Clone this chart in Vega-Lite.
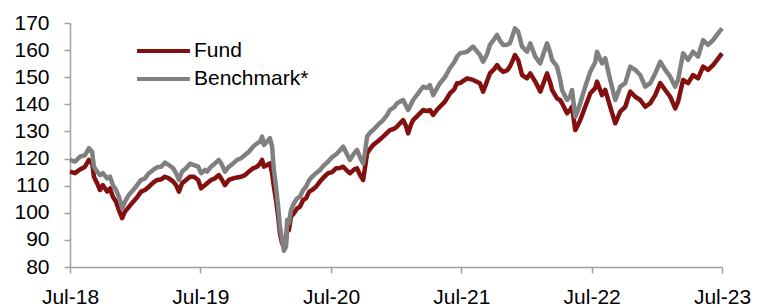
{
  "$schema": "https://vega.github.io/schema/vega-lite/v6.json",
  "width": 652,
  "height": 244,
  "autosize": {"type": "none"},
  "padding": {"left": 70, "top": 23, "right": 36, "bottom": 39},
  "background": "white",
  "config": {"view": {"stroke": null}, "font": "Liberation Sans"},
  "data": {"values": [
    {"d":"2018-07-31","Fund":115.2,"Benchmark":119.5},
    {"d":"2018-08-14","Fund":114.6,"Benchmark":118.9},
    {"d":"2018-08-28","Fund":116.0,"Benchmark":120.7},
    {"d":"2018-09-11","Fund":117.0,"Benchmark":121.3},
    {"d":"2018-09-22","Fund":119.5,"Benchmark":123.8},
    {"d":"2018-10-01","Fund":118.5,"Benchmark":122.5},
    {"d":"2018-10-06","Fund":113.3,"Benchmark":117.0},
    {"d":"2018-10-15","Fund":110.9,"Benchmark":115.2},
    {"d":"2018-10-23","Fund":108.4,"Benchmark":113.9},
    {"d":"2018-10-31","Fund":110.2,"Benchmark":114.6},
    {"d":"2018-11-12","Fund":107.8,"Benchmark":112.7},
    {"d":"2018-11-20","Fund":109.0,"Benchmark":113.3},
    {"d":"2018-11-28","Fund":105.9,"Benchmark":110.2},
    {"d":"2018-12-07","Fund":104.1,"Benchmark":108.4},
    {"d":"2018-12-15","Fund":101.0,"Benchmark":105.9},
    {"d":"2018-12-24","Fund":98.0,"Benchmark":101.6},
    {"d":"2019-01-01","Fund":100.4,"Benchmark":104.1},
    {"d":"2019-01-12","Fund":102.2,"Benchmark":106.6},
    {"d":"2019-01-24","Fund":104.1,"Benchmark":108.4},
    {"d":"2019-02-04","Fund":105.7,"Benchmark":110.2},
    {"d":"2019-02-15","Fund":107.8,"Benchmark":112.1},
    {"d":"2019-02-26","Fund":108.4,"Benchmark":112.7},
    {"d":"2019-03-09","Fund":109.6,"Benchmark":114.6},
    {"d":"2019-03-21","Fund":111.1,"Benchmark":115.8},
    {"d":"2019-04-01","Fund":112.1,"Benchmark":116.8},
    {"d":"2019-04-12","Fund":112.3,"Benchmark":117.0},
    {"d":"2019-04-23","Fund":113.3,"Benchmark":118.5},
    {"d":"2019-05-04","Fund":112.7,"Benchmark":117.6},
    {"d":"2019-05-16","Fund":111.5,"Benchmark":116.4},
    {"d":"2019-05-24","Fund":110.2,"Benchmark":114.6},
    {"d":"2019-06-01","Fund":107.8,"Benchmark":112.1},
    {"d":"2019-06-10","Fund":110.9,"Benchmark":115.2},
    {"d":"2019-06-21","Fund":112.1,"Benchmark":116.4},
    {"d":"2019-07-02","Fund":113.3,"Benchmark":118.1},
    {"d":"2019-07-13","Fund":113.3,"Benchmark":117.6},
    {"d":"2019-07-25","Fund":112.1,"Benchmark":117.0},
    {"d":"2019-08-02","Fund":109.0,"Benchmark":114.6},
    {"d":"2019-08-13","Fund":110.2,"Benchmark":115.8},
    {"d":"2019-08-19","Fund":110.9,"Benchmark":115.2},
    {"d":"2019-08-30","Fund":112.1,"Benchmark":117.0},
    {"d":"2019-09-10","Fund":112.7,"Benchmark":118.2},
    {"d":"2019-09-21","Fund":113.9,"Benchmark":119.5},
    {"d":"2019-09-30","Fund":112.1,"Benchmark":117.6},
    {"d":"2019-10-08","Fund":110.2,"Benchmark":115.2},
    {"d":"2019-10-19","Fund":112.1,"Benchmark":117.0},
    {"d":"2019-10-31","Fund":112.7,"Benchmark":118.2},
    {"d":"2019-11-11","Fund":113.0,"Benchmark":119.5},
    {"d":"2019-11-22","Fund":113.3,"Benchmark":120.1},
    {"d":"2019-12-03","Fund":113.9,"Benchmark":121.3},
    {"d":"2019-12-14","Fund":115.2,"Benchmark":122.5},
    {"d":"2019-12-26","Fund":116.4,"Benchmark":124.4},
    {"d":"2020-01-06","Fund":117.0,"Benchmark":125.6},
    {"d":"2020-01-14","Fund":118.2,"Benchmark":126.2},
    {"d":"2020-01-20","Fund":119.5,"Benchmark":128.1},
    {"d":"2020-01-25","Fund":117.0,"Benchmark":125.0},
    {"d":"2020-02-03","Fund":117.6,"Benchmark":126.2},
    {"d":"2020-02-11","Fund":118.2,"Benchmark":127.5},
    {"d":"2020-02-17","Fund":114.6,"Benchmark":124.4},
    {"d":"2020-02-22","Fund":109.6,"Benchmark":115.8},
    {"d":"2020-02-28","Fund":104.7,"Benchmark":109.6},
    {"d":"2020-03-05","Fund":98.6,"Benchmark":102.2},
    {"d":"2020-03-10","Fund":92.4,"Benchmark":94.9},
    {"d":"2020-03-16","Fund":88.7,"Benchmark":90.0},
    {"d":"2020-03-21","Fund":88.0,"Benchmark":86.0},
    {"d":"2020-03-27","Fund":89.5,"Benchmark":87.5},
    {"d":"2020-03-30","Fund":94.9,"Benchmark":97.3},
    {"d":"2020-04-04","Fund":93.6,"Benchmark":96.1},
    {"d":"2020-04-10","Fund":98.6,"Benchmark":101.0},
    {"d":"2020-04-18","Fund":99.8,"Benchmark":103.5},
    {"d":"2020-04-27","Fund":101.6,"Benchmark":105.3},
    {"d":"2020-05-05","Fund":102.2,"Benchmark":105.9},
    {"d":"2020-05-14","Fund":104.7,"Benchmark":108.4},
    {"d":"2020-05-22","Fund":105.3,"Benchmark":109.6},
    {"d":"2020-05-31","Fund":107.8,"Benchmark":112.1},
    {"d":"2020-06-08","Fund":108.4,"Benchmark":113.3},
    {"d":"2020-06-19","Fund":109.6,"Benchmark":114.6},
    {"d":"2020-06-30","Fund":111.5,"Benchmark":115.8},
    {"d":"2020-07-12","Fund":113.3,"Benchmark":117.6},
    {"d":"2020-07-23","Fund":114.6,"Benchmark":118.9},
    {"d":"2020-08-03","Fund":115.0,"Benchmark":120.5},
    {"d":"2020-08-14","Fund":116.4,"Benchmark":121.5},
    {"d":"2020-08-25","Fund":116.5,"Benchmark":123.0},
    {"d":"2020-09-03","Fund":117.0,"Benchmark":124.4},
    {"d":"2020-09-14","Fund":115.5,"Benchmark":121.5},
    {"d":"2020-09-22","Fund":114.6,"Benchmark":119.5},
    {"d":"2020-10-04","Fund":116.0,"Benchmark":122.0},
    {"d":"2020-10-12","Fund":116.4,"Benchmark":123.2},
    {"d":"2020-10-20","Fund":114.0,"Benchmark":120.5},
    {"d":"2020-10-29","Fund":112.1,"Benchmark":118.2},
    {"d":"2020-11-03","Fund":116.5,"Benchmark":122.0},
    {"d":"2020-11-09","Fund":121.9,"Benchmark":128.1},
    {"d":"2020-11-17","Fund":123.5,"Benchmark":129.5},
    {"d":"2020-11-26","Fund":125.0,"Benchmark":130.5},
    {"d":"2020-12-10","Fund":126.5,"Benchmark":132.5},
    {"d":"2020-12-24","Fund":128.1,"Benchmark":134.2},
    {"d":"2021-01-04","Fund":129.5,"Benchmark":136.0},
    {"d":"2021-01-12","Fund":130.5,"Benchmark":137.9},
    {"d":"2021-01-24","Fund":131.0,"Benchmark":139.0},
    {"d":"2021-02-01","Fund":131.8,"Benchmark":140.4},
    {"d":"2021-02-09","Fund":133.0,"Benchmark":141.0},
    {"d":"2021-02-18","Fund":134.2,"Benchmark":141.6},
    {"d":"2021-02-26","Fund":132.0,"Benchmark":139.5},
    {"d":"2021-03-04","Fund":129.3,"Benchmark":137.9},
    {"d":"2021-03-12","Fund":132.5,"Benchmark":140.0},
    {"d":"2021-03-18","Fund":134.2,"Benchmark":141.6},
    {"d":"2021-04-01","Fund":136.0,"Benchmark":144.0},
    {"d":"2021-04-15","Fund":137.9,"Benchmark":146.5},
    {"d":"2021-04-26","Fund":137.5,"Benchmark":146.0},
    {"d":"2021-05-04","Fund":137.9,"Benchmark":147.1},
    {"d":"2021-05-13","Fund":136.1,"Benchmark":143.4},
    {"d":"2021-05-24","Fund":138.0,"Benchmark":146.0},
    {"d":"2021-06-01","Fund":139.1,"Benchmark":147.8},
    {"d":"2021-06-15","Fund":141.0,"Benchmark":150.0},
    {"d":"2021-06-29","Fund":144.0,"Benchmark":153.3},
    {"d":"2021-07-11","Fund":145.5,"Benchmark":155.5},
    {"d":"2021-07-19","Fund":147.8,"Benchmark":157.6},
    {"d":"2021-07-27","Fund":147.8,"Benchmark":158.8},
    {"d":"2021-08-16","Fund":149.6,"Benchmark":159.4},
    {"d":"2021-09-02","Fund":149.0,"Benchmark":161.3},
    {"d":"2021-09-21","Fund":147.8,"Benchmark":158.2},
    {"d":"2021-09-30","Fund":144.7,"Benchmark":155.7},
    {"d":"2021-10-11","Fund":148.5,"Benchmark":158.5},
    {"d":"2021-10-19","Fund":151.4,"Benchmark":161.9},
    {"d":"2021-10-31","Fund":153.0,"Benchmark":164.0},
    {"d":"2021-11-08","Fund":154.5,"Benchmark":165.6},
    {"d":"2021-11-16","Fund":153.0,"Benchmark":163.5},
    {"d":"2021-11-25","Fund":152.0,"Benchmark":161.9},
    {"d":"2021-12-06","Fund":152.5,"Benchmark":162.0},
    {"d":"2021-12-14","Fund":153.9,"Benchmark":162.5},
    {"d":"2021-12-23","Fund":156.5,"Benchmark":166.0},
    {"d":"2021-12-28","Fund":158.2,"Benchmark":168.0},
    {"d":"2022-01-06","Fund":156.4,"Benchmark":166.8},
    {"d":"2022-01-17","Fund":150.8,"Benchmark":161.3},
    {"d":"2022-01-31","Fund":149.6,"Benchmark":159.4},
    {"d":"2022-02-09","Fund":151.4,"Benchmark":162.5},
    {"d":"2022-02-23","Fund":148.4,"Benchmark":157.6},
    {"d":"2022-03-09","Fund":144.7,"Benchmark":155.1},
    {"d":"2022-03-20","Fund":148.5,"Benchmark":159.5},
    {"d":"2022-03-28","Fund":151.4,"Benchmark":162.5},
    {"d":"2022-04-06","Fund":148.0,"Benchmark":159.0},
    {"d":"2022-04-11","Fund":145.3,"Benchmark":156.4},
    {"d":"2022-04-25","Fund":142.2,"Benchmark":153.9},
    {"d":"2022-05-04","Fund":141.5,"Benchmark":149.0},
    {"d":"2022-05-09","Fund":140.4,"Benchmark":145.3},
    {"d":"2022-05-23","Fund":136.7,"Benchmark":141.6},
    {"d":"2022-06-01","Fund":138.0,"Benchmark":143.0},
    {"d":"2022-06-06","Fund":139.1,"Benchmark":145.3},
    {"d":"2022-06-15","Fund":130.5,"Benchmark":135.4},
    {"d":"2022-06-23","Fund":132.5,"Benchmark":138.0},
    {"d":"2022-06-29","Fund":134.2,"Benchmark":140.4},
    {"d":"2022-07-13","Fund":139.1,"Benchmark":146.5},
    {"d":"2022-07-27","Fund":144.0,"Benchmark":152.0},
    {"d":"2022-08-10","Fund":146.0,"Benchmark":155.5},
    {"d":"2022-08-15","Fund":148.4,"Benchmark":159.4},
    {"d":"2022-08-29","Fund":143.4,"Benchmark":155.1},
    {"d":"2022-09-07","Fund":145.3,"Benchmark":157.0},
    {"d":"2022-09-21","Fund":139.1,"Benchmark":149.0},
    {"d":"2022-10-05","Fund":133.0,"Benchmark":141.6},
    {"d":"2022-10-19","Fund":137.3,"Benchmark":146.5},
    {"d":"2022-11-02","Fund":139.1,"Benchmark":147.8},
    {"d":"2022-11-16","Fund":144.7,"Benchmark":153.9},
    {"d":"2022-11-30","Fund":142.8,"Benchmark":152.7},
    {"d":"2022-12-14","Fund":141.6,"Benchmark":150.8},
    {"d":"2022-12-28","Fund":139.1,"Benchmark":146.5},
    {"d":"2023-01-11","Fund":140.4,"Benchmark":147.8},
    {"d":"2023-01-25","Fund":143.4,"Benchmark":151.4},
    {"d":"2023-02-08","Fund":147.8,"Benchmark":155.7},
    {"d":"2023-02-22","Fund":145.3,"Benchmark":152.7},
    {"d":"2023-03-08","Fund":142.8,"Benchmark":150.2},
    {"d":"2023-03-22","Fund":138.5,"Benchmark":146.5},
    {"d":"2023-03-30","Fund":141.0,"Benchmark":149.0},
    {"d":"2023-04-13","Fund":149.0,"Benchmark":158.8},
    {"d":"2023-04-27","Fund":147.8,"Benchmark":156.4},
    {"d":"2023-05-11","Fund":150.8,"Benchmark":159.4},
    {"d":"2023-05-25","Fund":149.6,"Benchmark":157.6},
    {"d":"2023-06-08","Fund":153.9,"Benchmark":163.7},
    {"d":"2023-06-22","Fund":152.7,"Benchmark":161.9},
    {"d":"2023-07-06","Fund":154.5,"Benchmark":163.7},
    {"d":"2023-07-20","Fund":156.9,"Benchmark":166.2},
    {"d":"2023-07-31","Fund":158.8,"Benchmark":168.0}
  ]},
  "transform": [{"fold": ["Fund", "Benchmark"], "as": ["series", "value"]}],
  "mark": {"type": "line", "strokeWidth": 4.5, "strokeJoin": "round"},
  "encoding": {
    "x": {
      "field": "d", "type": "temporal",
      "scale": {"type": "utc", "domain": [{"year": 2018, "month": 7, "date": 31, "utc": true}, {"year": 2023, "month": 7, "date": 31, "utc": true}]},
      "axis": {
        "title": null,
        "values": [
          {"year": 2018, "month": 7, "date": 31, "utc": true},
          {"year": 2019, "month": 7, "date": 31, "utc": true},
          {"year": 2020, "month": 7, "date": 31, "utc": true},
          {"year": 2021, "month": 7, "date": 31, "utc": true},
          {"year": 2022, "month": 7, "date": 31, "utc": true},
          {"year": 2023, "month": 7, "date": 31, "utc": true}
        ],
        "labelExpr": "utcFormat(datum.value, '%b-%y')",
        "grid": false, "labelFontSize": 21, "labelColor": "#000000", "labelFont": "Liberation Sans",
        "labelFlush": false, "labelOverlap": false,
        "domainColor": "#a0a0a0", "domainWidth": 1.5, "tickColor": "#a0a0a0", "tickWidth": 1.5, "tickSize": 6,
        "labelPadding": 13
      }
    },
    "y": {
      "field": "value", "type": "quantitative",
      "scale": {"domain": [80, 170], "nice": false, "zero": false},
      "axis": {
        "title": null, "values": [80, 90, 100, 110, 120, 130, 140, 150, 160, 170],
        "grid": false, "labelFontSize": 21, "labelColor": "#000000", "labelFont": "Liberation Sans",
        "labelFlush": false, "labelOverlap": false,
        "domainColor": "#a0a0a0", "domainWidth": 1.5, "tickColor": "#a0a0a0", "tickWidth": 1.5, "tickSize": 6,
        "labelPadding": 15
      }
    },
    "color": {
      "field": "series", "type": "nominal",
      "scale": {"domain": ["Fund", "Benchmark"], "range": ["#840f0f", "#808080"]},
      "legend": {
        "orient": "none", "legendX": 83, "legendY": 17.5, "title": null, "padding": 0,
        "symbolType": "M-5,0H5", "symbolSize": 112, "symbolStrokeWidth": 4, "symbolOffset": 0,
        "labelExpr": "datum.label == 'Benchmark' ? 'Benchmark*' : datum.label",
        "labelFontSize": 21, "labelColor": "#000000", "labelFont": "Liberation Sans", "labelOffset": 20, "rowPadding": 6
      }
    }
  }
}
